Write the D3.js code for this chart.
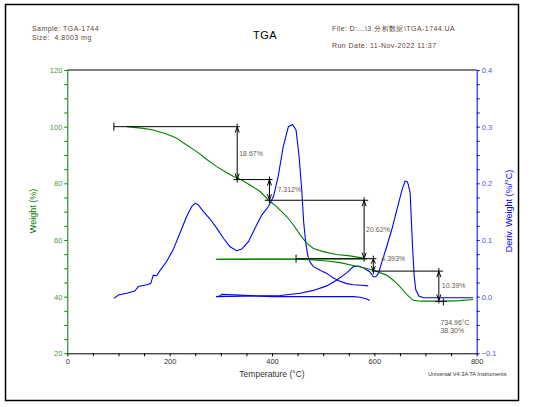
<!DOCTYPE html>
<html>
<head>
<meta charset="utf-8">
<script src="https://cdn.jsdelivr.net/npm/d3@7"></script>
<style>
  body { margin: 0; background: #fff; }
  svg { font-family: "Liberation Sans", Arial, sans-serif; display: block; }
</style>
</head>
<body>
<div id="chart"></div>
<script>
// TGA chart: weight (%) and derivative weight (%/°C) against temperature

// weight curve, first heating
const wtTemp1 = [116, 149, 168, 194, 214, 233, 253, 272, 292, 311, 325, 338, 357, 377, 393, 409, 429, 442, 455, 468, 481, 500, 526, 552, 579, 585]
const wtVal1 = [100, 99.4, 98.8, 97.4, 95.9, 93.5, 91.2, 88.5, 85.9, 83.8, 82.4, 81.4, 79.4, 77.1, 74.1, 71.8, 68.2, 65.3, 61.8, 58.8, 57.0, 55.9, 54.9, 54.4, 53.6, 53.4]
// weight while cooling back
const wtTemp2 = [585, 291]
const wtVal2 = [53.3, 53.2]
// weight, second heating
const wtTemp3 = [291, 442, 474, 507, 533, 559, 579, 598, 624, 637, 650, 663, 676, 690, 740, 767, 793]
const wtVal3 = [53.2, 53.2, 53.0, 52.6, 52.0, 51.0, 50.2, 49.3, 47.6, 45.8, 43.5, 40.8, 38.7, 38.4, 38.4, 38.6, 39.0]

// derivative curve, first heating
const dTemp1 = [91, 100, 116, 132, 139, 155, 163, 168, 175, 181, 194, 207, 220, 233, 243, 250, 256, 266, 279, 292, 305, 318, 331, 341, 354, 367, 380, 393, 403, 412, 422, 432, 440, 447, 453, 458, 462, 466, 470, 475, 481, 495, 507, 520, 533, 546, 559, 575, 588]
const dVal1 = [-0.003, 0.003, 0.006, 0.010, 0.018, 0.021, 0.023, 0.038, 0.037, 0.046, 0.062, 0.083, 0.112, 0.141, 0.159, 0.165, 0.162, 0.150, 0.137, 0.121, 0.103, 0.088, 0.081, 0.084, 0.097, 0.121, 0.144, 0.159, 0.177, 0.212, 0.265, 0.300, 0.304, 0.294, 0.247, 0.19, 0.13, 0.095, 0.072, 0.060, 0.053, 0.046, 0.041, 0.033, 0.027, 0.023, 0.021, 0.020, 0.019]
// derivative while cooling
const dTemp2 = [591, 585, 572, 559, 400, 302, 298, 291]
const dVal2 = [-0.007, -0.004, -0.001, 0.0, 0.0, 0.004, 0.001, 0.0]
// derivative, second heating
const dTemp3 = [291, 416, 455, 481, 507, 526, 546, 559, 569, 578, 591, 598, 603, 608, 614, 624, 634, 644, 654, 660, 664, 666, 670, 672, 675, 678, 681, 687, 696, 793]
const dVal3 = [0.0, 0.002, 0.006, 0.011, 0.019, 0.029, 0.042, 0.053, 0.054, 0.051, 0.044, 0.035, 0.035, 0.041, 0.059, 0.088, 0.118, 0.153, 0.188, 0.204, 0.203, 0.199, 0.183, 0.141, 0.082, 0.035, 0.012, 0.001, -0.002, -0.002]

// step analysis: vertical arrow temperature, top and bottom weight, label
const stepTemp = [332, 395, 580, 598, 726]
const stepTop = [100, 81.33, 74.02, 53.40, 49.01]
const stepBottom = [81.33, 74.02, 53.40, 49.01, 38.62]
const stepLabels = ['18.67%', '7.312%', '20.62%', '4.393%', '10.39%']
// horizontal baselines: level, from, to, end tick on the left
const hLevel = [100, 81.33, 74.02, 53.40, 49.01]
const hFrom = [91, 325, 386, 447, 595]
const hTo = [337, 401, 588, 604, 734]
const hTick = [true, false, false, true, false]
// end point of analysis
const endTemp = 734.96
const endWeight = 38.30

const xTicks = d3.range(0, 801, 50)
const wTicks = d3.range(20, 121, 5)
const dTicks = d3.range(-0.1, 0.4001, 0.025)

const width = 535
const height = 407
const green = '#008000'
const blue = '#0000ff'
// label nudges (px) for the step labels
const labelDx = [2, 8, 2, 8, 3]
const labelDy = [2.5, 2.5, 2.5, -3.5, 2.5]

const svg = d3.select('#chart')
  .append('svg')
  .attr('width', width)
  .attr('height', height)

svg.append('rect')
  .attr('x', 5.5).attr('y', 4.5)
  .attr('width', 513).attr('height', 396)
  .attr('fill', 'none').attr('stroke', '#000').attr('stroke-width', 1.5)

// scales
const x = d3.scaleLinear().domain([0, 800]).range([67.3, 476.7])
const yW = d3.scaleLinear().domain([20, 120]).range([353.3, 70])
const yD = d3.scaleLinear().domain([-0.1, 0.4]).range([353.3, 70])

// header texts
const hdr = svg.append('g').attr('font-size', 7).attr('fill', '#5a4636').attr('letter-spacing', 0.45)
hdr.append('text').attr('x', 32).attr('y', 31).text('Sample: TGA-1744')
hdr.append('text').attr('x', 32).attr('y', 40).attr('xml:space', 'preserve').text('Size:  4.8003 mg')
hdr.append('text').attr('x', 332).attr('y', 31).text('File: D:...\\3.分析数据\\TGA-1744.UA')
hdr.append('text').attr('x', 332).attr('y', 48).text('Run Date: 11-Nov-2022 11:37')
svg.append('text').attr('x', 265).attr('y', 39).attr('text-anchor', 'middle')
  .attr('font-size', 11).attr('letter-spacing', 0.5).text('TGA')

// top border of the plot
svg.append('line')
  .attr('x1', x(0)).attr('x2', x(800)).attr('y1', yW(120)).attr('y2', yW(120))
  .attr('stroke', '#000')

// axes
const xAxis = svg.append('g')
  .attr('transform', `translate(0, ${yW(20)})`)
  .call(d3.axisBottom(x).tickValues(xTicks).tickSize(3).tickSizeOuter(0).tickPadding(2)
    .tickFormat(d => d % 200 === 0 ? d : ''))
xAxis.selectAll('text').attr('font-size', 7.5).attr('fill', '#333').attr('font-family', null)

const yAxisL = svg.append('g')
  .attr('transform', `translate(${x(0)}, 0)`)
  .call(d3.axisLeft(yW).tickValues(wTicks).tickSize(3).tickSizeOuter(0).tickPadding(2)
    .tickFormat(d => d % 20 === 0 ? d : ''))
yAxisL.select('.domain').attr('stroke', green)
yAxisL.selectAll('line').attr('stroke', green)
yAxisL.selectAll('text').attr('font-size', 7.5).attr('fill', '#4a9a3a').attr('font-family', null)

const yAxisR = svg.append('g')
  .attr('transform', `translate(${x(800)}, 0)`)
  .call(d3.axisRight(yD).tickValues(dTicks).tickSize(3).tickSizeOuter(0).tickPadding(2)
    .tickFormat(d => Math.round(d * 1000) % 100 === 0 ? d3.format('.1f')(d) : ''))
yAxisR.select('.domain').attr('stroke', blue)
yAxisR.selectAll('line').attr('stroke', blue)
yAxisR.selectAll('text').attr('font-size', 7.5).attr('fill', '#5050ff').attr('font-family', null)

// axis titles
svg.append('text')
  .attr('transform', `translate(36, 211) rotate(-90)`)
  .attr('text-anchor', 'middle').attr('font-size', 9).attr('fill', green)
  .text('Weight (%)')
svg.append('text')
  .attr('transform', `translate(512, 211) rotate(-90)`)
  .attr('text-anchor', 'middle').attr('font-size', 9).attr('fill', blue)
  .text('Deriv. Weight (%/°C)')
svg.append('text')
  .attr('x', 272).attr('y', 377).attr('text-anchor', 'middle')
  .attr('font-size', 8.5).attr('fill', '#333')
  .text('Temperature (°C)')
svg.append('text')
  .attr('x', 428).attr('y', 376).attr('font-size', 5.6).attr('fill', '#333')
  .text('Universal V4.3A TA Instruments')

// curves
const lineW = d3.line().x(d => x(d[0])).y(d => yW(d[1]))
const lineD = d3.line().x(d => x(d[0])).y(d => yD(d[1]))

const wSegments = [d3.zip(wtTemp1, wtVal1), d3.zip(wtTemp2, wtVal2), d3.zip(wtTemp3, wtVal3)]
const dSegments = [d3.zip(dTemp1, dVal1), d3.zip(dTemp2, dVal2), d3.zip(dTemp3, dVal3)]

svg.append('g').selectAll('path')
  .data(dSegments).enter().append('path')
  .attr('d', lineD).attr('fill', 'none').attr('stroke', blue).attr('stroke-width', 1.1)

svg.append('g').selectAll('path')
  .data(wSegments).enter().append('path')
  .attr('d', lineW).attr('fill', 'none').attr('stroke', green).attr('stroke-width', 1.1)

// step analysis marks
const marks = svg.append('g').attr('stroke', '#000').attr('stroke-width', 1).attr('fill', 'none')

hLevel.forEach((lv, i) => {
  marks.append('line')
    .attr('x1', x(hFrom[i])).attr('x2', x(hTo[i]))
    .attr('y1', yW(lv)).attr('y2', yW(lv))
  if (hTick[i]) {
    marks.append('line')
      .attr('x1', x(hFrom[i])).attr('x2', x(hFrom[i]))
      .attr('y1', yW(lv) - 4).attr('y2', yW(lv) + 4)
  }
})

stepTemp.forEach((t, i) => {
  const xx = x(t)
  const y0 = yW(stepTop[i])
  const y1 = yW(stepBottom[i])
  marks.append('line').attr('x1', xx).attr('x2', xx).attr('y1', y0 - 3).attr('y2', y1 + 3)
  const ah = Math.min(6, (y1 - y0) / 2.5)
  marks.append('path').attr('d', `M${xx - 2},${y0 + ah} L${xx},${y0} L${xx + 2},${y0 + ah}`)
  marks.append('path').attr('d', `M${xx - 2},${y1 - ah} L${xx},${y1} L${xx + 2},${y1 - ah}`)
})

// end point cross
marks.append('line')
  .attr('x1', x(endTemp) - 8).attr('x2', x(endTemp) + 3)
  .attr('y1', yW(endWeight)).attr('y2', yW(endWeight))
marks.append('line')
  .attr('x1', x(endTemp)).attr('x2', x(endTemp))
  .attr('y1', yW(endWeight) - 3).attr('y2', yW(endWeight) + 4)

// labels
const lab = svg.append('g').attr('font-size', 7).attr('fill', '#6a5a50')
stepLabels.forEach((s, i) => {
  lab.append('text')
    .attr('x', x(stepTemp[i]) + labelDx[i])
    .attr('y', (yW(stepTop[i]) + yW(stepBottom[i])) / 2 + labelDy[i])
    .text(s)
})
lab.append('text').attr('x', x(endTemp) - 3).attr('y', yW(endWeight) + 24).text(`${endTemp}°C`)
lab.append('text').attr('x', x(endTemp) - 3).attr('y', yW(endWeight) + 32).text(`${endWeight.toFixed(2)}%`)
</script>
</body>
</html>
